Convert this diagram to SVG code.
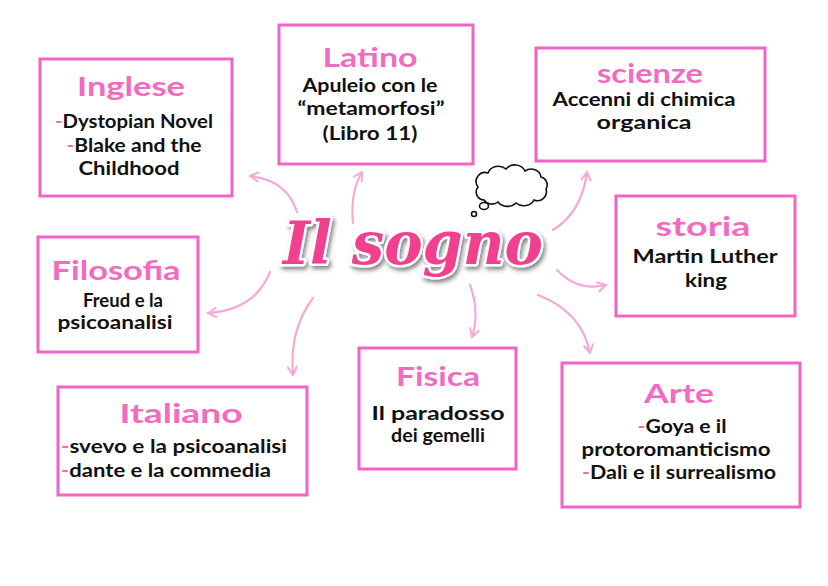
<svg xmlns="http://www.w3.org/2000/svg" width="828" height="586" viewBox="0 0 828 586">
<defs>
<style>
.box{fill:#fff;stroke:#f163c4;stroke-width:3}
.ttl{font-family:"Lato","Open Sans",sans-serif;font-weight:700;font-size:27px;fill:#f26bc1;text-anchor:middle}
.bd{font-family:"Lato","Open Sans",sans-serif;font-weight:700;font-size:18px;fill:#111;text-anchor:middle}
.bdl{font-family:"Lato","Open Sans",sans-serif;font-weight:700;font-size:18px;fill:#111}
.ds{fill:#f26bc1}
.arr{fill:none;stroke:#f7a9d6;stroke-width:2.2;stroke-linecap:round;marker-end:url(#ah)}
</style>
<marker id="ah" viewBox="0 0 12 12" refX="10" refY="6" markerWidth="12" markerHeight="12" markerUnits="userSpaceOnUse" orient="auto">
<path d="M2,1.5 L10,6 L2,10.5" fill="none" stroke="#f7a9d6" stroke-width="2" stroke-linecap="round" stroke-linejoin="round"/>
</marker>
<filter id="sh" x="-10%" y="-20%" width="130%" height="150%">
<feDropShadow dx="2" dy="3" stdDeviation="2" flood-color="#333" flood-opacity="0.6"/>
</filter>
</defs>
<rect width="828" height="586" fill="#fff"/>

<g id="connectors">
<path class="arr" d="M297,212 Q287,180 250,176"/>
<path class="arr" d="M353,223 Q350,192 362,172"/>
<path class="arr" d="M553,230 Q582,212 587,172"/>
<path class="arr" d="M557,270 Q578,292 606,285"/>
<path class="arr" d="M538,295 Q582,312 590,353"/>
<path class="arr" d="M470,285 Q480,312 472,337"/>
<path class="arr" d="M313,298 Q289,330 293,375"/>
<path class="arr" d="M270,272 Q255,310 208,313"/>
</g>

<g id="center">
<text x="413" y="264" textLength="260" lengthAdjust="spacingAndGlyphs" font-family="'DejaVu Serif','Liberation Serif',serif" font-style="italic" font-weight="700" font-size="60" fill="#f0408f" stroke="#fff" stroke-width="5" stroke-linejoin="round" paint-order="stroke" text-anchor="middle" filter="url(#sh)">Il sogno</text>
</g>

<g id="cloud" fill="#fff" stroke="#111" stroke-width="1.6">
<path d="M484,200 a8,8 0 0 1 -6,-13 a9,9 0 0 1 10,-14 a11,10 0 0 1 18,-4 a11,10 0 0 1 19,2 a10,9 0 0 1 16,6 a8,8 0 0 1 5,12 a9,9 0 0 1 -12,11 a11,9 0 0 1 -18,3 a11,9 0 0 1 -18,-1 a9,8 0 0 1 -14,-2 z"/>
<ellipse cx="484" cy="206" rx="4.5" ry="3.5"/>
<circle cx="474" cy="214" r="2.5"/>
</g>

<g id="inglese">
<rect class="box" x="40" y="59" width="192" height="137"/>
<text class="ttl" x="131" y="96" textLength="108" lengthAdjust="spacingAndGlyphs">Inglese</text>
<text class="bd" x="134" y="128" textLength="158" lengthAdjust="spacingAndGlyphs"><tspan class="ds">-</tspan>Dystopian Novel</text>
<text class="bd" x="134" y="152" textLength="135" lengthAdjust="spacingAndGlyphs"><tspan class="ds">-</tspan>Blake and the</text>
<text class="bd" x="129" y="175" textLength="101" lengthAdjust="spacingAndGlyphs">Childhood</text>
</g>

<g id="latino">
<rect class="box" x="279" y="25" width="194" height="139"/>
<text class="ttl" x="370" y="67" textLength="95" lengthAdjust="spacingAndGlyphs">Latino</text>
<text class="bd" x="370" y="92" textLength="135" lengthAdjust="spacingAndGlyphs">Apuleio con le</text>
<text class="bd" x="371" y="115" textLength="147" lengthAdjust="spacingAndGlyphs">“metamorfosi”</text>
<text class="bd" x="370" y="140" textLength="95" lengthAdjust="spacingAndGlyphs">(Libro 11)</text>
</g>

<g id="scienze">
<rect class="box" x="536" y="48" width="229" height="113"/>
<text class="ttl" x="650" y="83" textLength="106" lengthAdjust="spacingAndGlyphs">scienze</text>
<text class="bd" x="644" y="106" textLength="183" lengthAdjust="spacingAndGlyphs">Accenni di chimica</text>
<text class="bd" x="644" y="129" textLength="95" lengthAdjust="spacingAndGlyphs">organica</text>
</g>

<g id="storia">
<rect class="box" x="616" y="196" width="179" height="120"/>
<text class="ttl" x="703" y="236" textLength="95" lengthAdjust="spacingAndGlyphs">storia</text>
<text class="bd" x="705" y="263" textLength="145" lengthAdjust="spacingAndGlyphs">Martin Luther</text>
<text class="bd" x="706" y="287" textLength="42" lengthAdjust="spacingAndGlyphs">king</text>
</g>

<g id="filosofia">
<rect class="box" x="38" y="237" width="160" height="115"/>
<text class="ttl" x="116" y="280" textLength="129" lengthAdjust="spacingAndGlyphs">Filosofia</text>
<text class="bd" x="123" y="307" textLength="80" lengthAdjust="spacingAndGlyphs">Freud e la</text>
<text class="bd" x="115" y="329" textLength="115" lengthAdjust="spacingAndGlyphs">psicoanalisi</text>
</g>

<g id="italiano">
<rect class="box" x="58" y="387" width="249" height="108"/>
<text class="ttl" x="181" y="423" textLength="123" lengthAdjust="spacingAndGlyphs">Italiano</text>
<text class="bdl" x="61" y="453" textLength="226" lengthAdjust="spacingAndGlyphs"><tspan class="ds">-</tspan>svevo e la psicoanalisi</text>
<text class="bdl" x="61" y="477" textLength="210" lengthAdjust="spacingAndGlyphs"><tspan class="ds">-</tspan>dante e la commedia</text>
</g>

<g id="fisica">
<rect class="box" x="359" y="348" width="157" height="121"/>
<text class="ttl" x="438" y="386" textLength="84" lengthAdjust="spacingAndGlyphs">Fisica</text>
<text class="bd" x="438" y="420" textLength="133" lengthAdjust="spacingAndGlyphs">Il paradosso</text>
<text class="bd" x="438" y="442" textLength="94" lengthAdjust="spacingAndGlyphs">dei gemelli</text>
</g>

<g id="arte">
<rect class="box" x="562" y="363" width="238" height="144"/>
<text class="ttl" x="679" y="403" textLength="70" lengthAdjust="spacingAndGlyphs">Arte</text>
<text class="bd" x="682" y="433" textLength="89" lengthAdjust="spacingAndGlyphs"><tspan class="ds">-</tspan>Goya e il</text>
<text class="bd" x="676" y="456" textLength="189" lengthAdjust="spacingAndGlyphs">protoromanticismo</text>
<text class="bd" x="679" y="479" textLength="194" lengthAdjust="spacingAndGlyphs"><tspan class="ds">-</tspan>Dalì e il surrealismo</text>
</g>
</svg>
